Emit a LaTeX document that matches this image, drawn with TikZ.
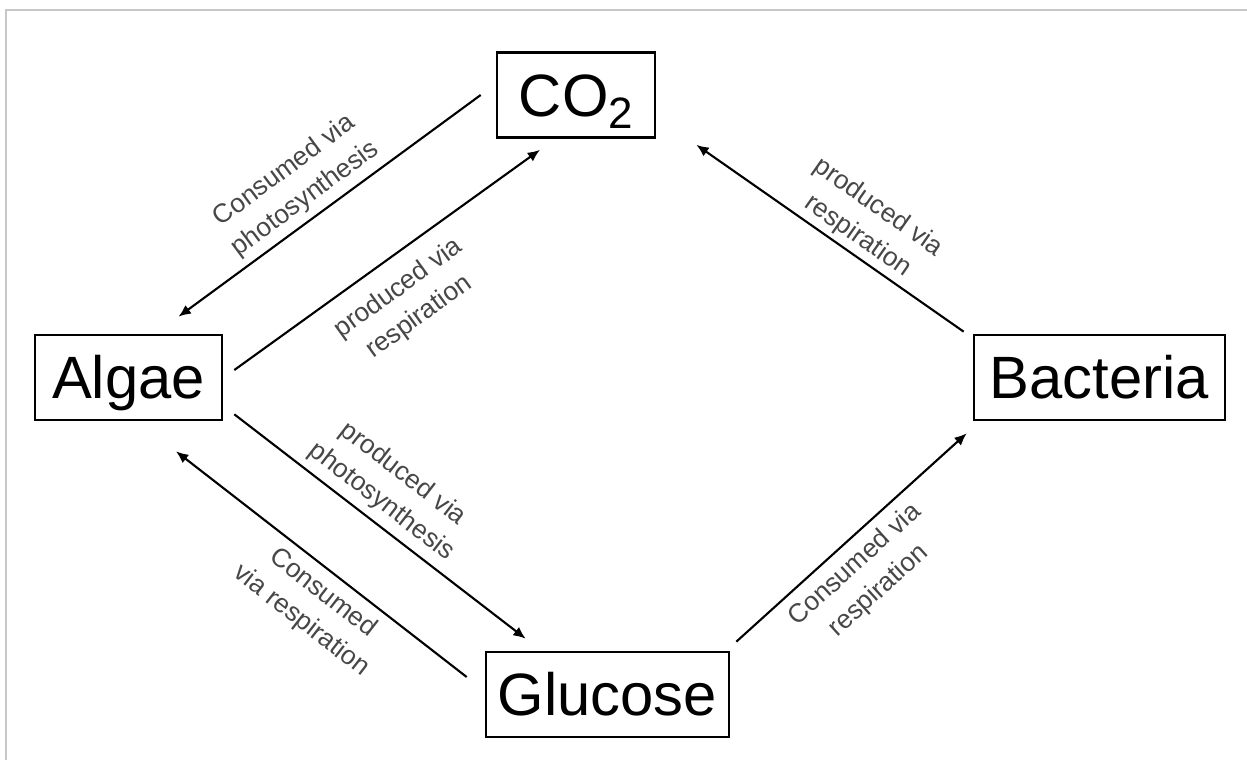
\documentclass[tikz,border=0pt]{standalone}
\usepackage{fontspec}
\setmainfont{Liberation Sans}
\usetikzlibrary{arrows.meta}
\tikzset{
	box/.style={draw, line width=1.5pt, minimum height=1.7cm, inner sep=0pt, text height=24.3pt, text depth=0pt, font=\fontsize{34}{34}\selectfont},
	arr/.style={line width=1.2pt, -{Latex[length=7pt, width=6pt]}},
	lbl/.style={align=center, text=black!72, inner sep=0pt, font=\fontsize{15}{20}\selectfont}
}
\begin{document}
\begin{tikzpicture}
	\useasboundingbox(0, 0) rectangle (24.94, 15.2);
	\draw[black!22, line width=1pt](0.12, 0) to (0.12, 15.0) to (24.94, 15.0);

		\node[box, minimum width=3.16cm] (co2) at(11.52, 13.3){CO\raisebox{-0.2em}{\fontsize{25}{25}\selectfont 2}};
		\node[box, minimum width=3.74cm] (algae) at(2.57, 7.65){Algae};
		\node[box, minimum width=5.02cm] (bacteria) at(21.99, 7.65){Bacteria};
		\node[box, minimum width=4.86cm] (glucose) at(12.15, 1.31){Glucose};

		% algae <-> co2
		\draw[arr]([xshift=-0.3cm]co2.west) to ([shift={(1.0, 0.34)}]algae.north);
		\node[lbl, rotate=36.6] (l1) at(5.9, 11.5){Consumed via\\photosynthesis};
		\draw[arr]([shift={(0.22, 0.15)}]algae.east) to ([shift={(-0.72, -0.22)}]co2.south);
		\node[lbl, rotate=35.9] (l2) at(8.18, 9.14){produced via\\respiration};

		% bacteria -> co2
		\draw[arr]([shift={(-0.18, 0.04)}]bacteria.north west) to ([shift={(0.8, -0.12)}]co2.south east);
		\node[lbl, rotate=-35.1] (l3) at(17.36, 10.76){produced via\\respiration};

		% glucose -> bacteria
		\draw[arr]([shift={(0.12, 0.18)}]glucose.north east) to ([shift={(-0.12, -0.24)}]bacteria.south west);
		\node[lbl, rotate=42.2] (l4) at(17.34, 3.64){Consumed via\\respiration};

		% algae <-> glucose
		\draw[arr]([shift={(0.22, 0.14)}]algae.south east) to ([shift={(0.82, 0.24)}]glucose.north west);
		\node[lbl, rotate=-37.7] (l5) at(7.84, 5.44){produced via\\photosynthesis};
		\draw[arr]([shift={(-0.36, 0.35)}]glucose.west) to ([shift={(0.95, -0.6)}]algae.south);
		\node[lbl, rotate=-37.9] (l6) at(6.24, 3.06){Consumed\\via respiration};
\end{tikzpicture}
\end{document}
